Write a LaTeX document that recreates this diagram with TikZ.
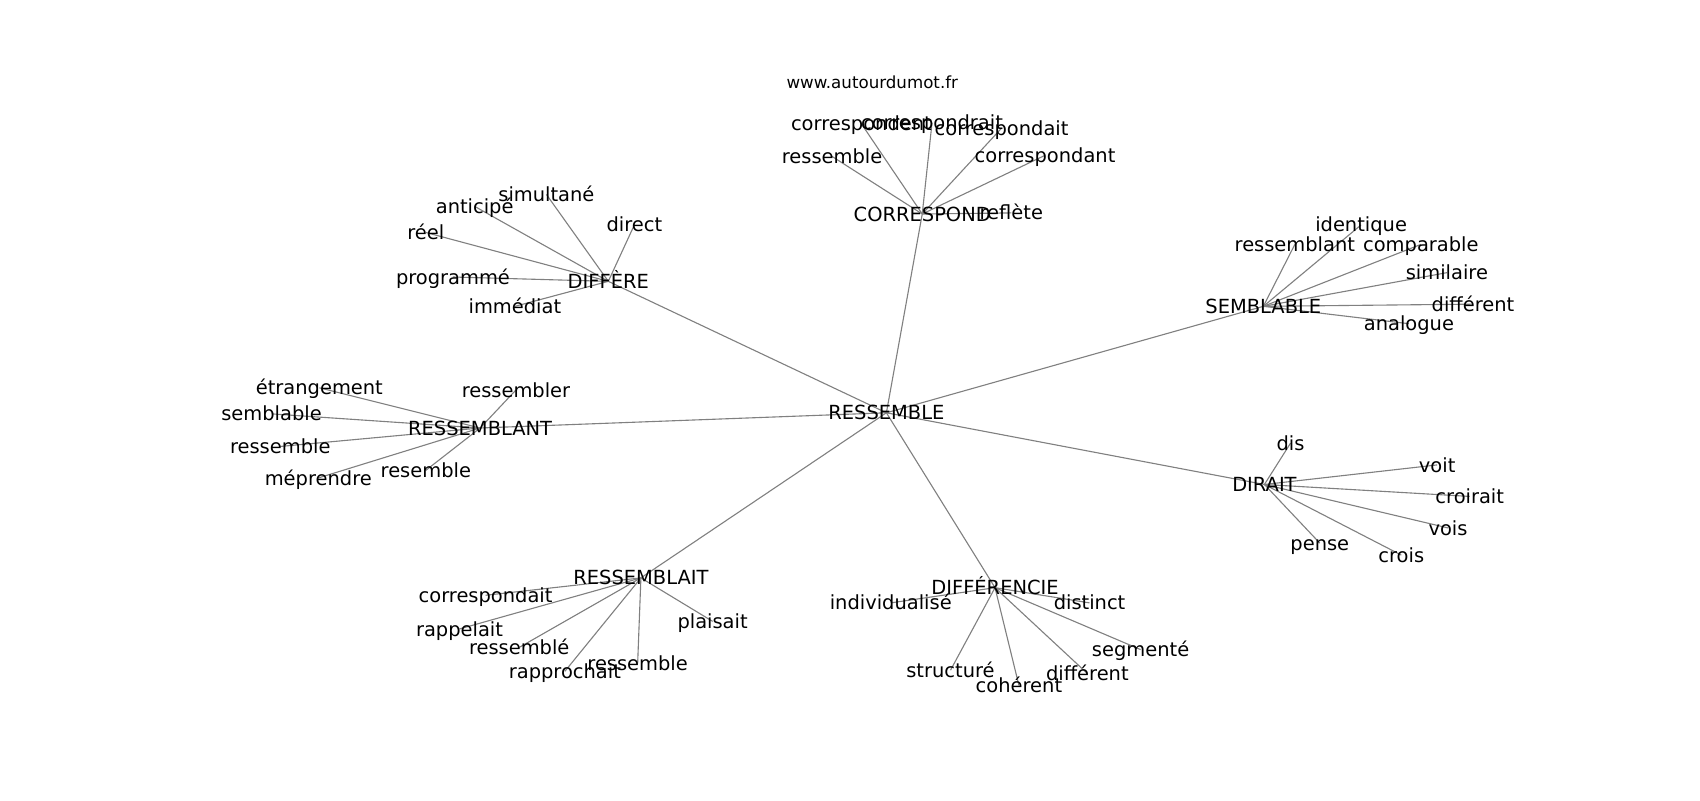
\documentclass[tikz,border=0pt]{standalone}
\usepackage{fontspec}
\setmainfont{DejaVu Sans}
\usetikzlibrary{backgrounds}
\tikzset{
  lbl/.style={inner sep=0pt, text height=10.2pt, text depth=0pt, font=\fontsize{14}{16}\selectfont, text=black},
  web/.style={inner sep=0pt, font=\fontsize{12}{14}\selectfont, text=black},
  edge/.style={draw=black!50, line width=0.8pt}
}
\begin{document}
\begin{tikzpicture}[x=0.782pt, y=-0.782pt]
\useasboundingbox (0,0) rectangle (1565,737);
\node[web] (web) at (803,76) {www.autourdumot.fr};
% hubs
\node[lbl] (R) at (816,380) {RESSEMBLE};
\node[lbl] (C) at (849,197) {CORRESPOND};
\node[lbl] (D) at (560,259) {DIFFÈRE};
\node[lbl] (S) at (1163,282) {SEMBLABLE};
\node[lbl] (RT) at (442,394) {RESSEMBLANT};
\node[lbl] (DI) at (1164,446) {DIRAIT};
\node[lbl] (RA) at (590,532) {RESSEMBLAIT};
\node[lbl] (DF) at (916,541) {DIFFÉRENCIE};
% CORRESPOND leaves
\node[lbl] (c1) at (793,114) {correspondent};
\node[lbl] (c2) at (858,113) {correspondrait};
\node[lbl] (c3) at (922,118) {correspondait};
\node[lbl] (c4) at (766,144) {ressemble};
\node[lbl] (c5) at (962,143) {correspondant};
\node[lbl] (c6) at (931,196) {reflète};
% DIFFERE leaves
\node[lbl] (d1) at (503,179) {simultané};
\node[lbl] (d2) at (437,190) {anticipé};
\node[lbl] (d3) at (584,207) {direct};
\node[lbl] (d4) at (392,214) {réel};
\node[lbl] (d5) at (417,255) {programmé};
\node[lbl] (d6) at (474,282) {immédiat};
% SEMBLABLE leaves
\node[lbl] (s1) at (1253,207) {identique};
\node[lbl] (s2) at (1192,225) {ressemblant};
\node[lbl] (s3) at (1308,225) {comparable};
\node[lbl] (s4) at (1332,251) {similaire};
\node[lbl] (s5) at (1356,280) {différent};
\node[lbl] (s6) at (1297,298) {analogue};
% RESSEMBLANT leaves
\node[lbl] (t1) at (294,357) {étrangement};
\node[lbl] (t2) at (250,381) {semblable};
\node[lbl] (t3) at (258,411) {ressemble};
\node[lbl] (t4) at (293,440) {méprendre};
\node[lbl] (t5) at (475,359) {ressembler};
\node[lbl] (t6) at (392,433) {resemble};
% DIRAIT leaves
\node[lbl] (i1) at (1188,408) {dis};
\node[lbl] (i2) at (1323,428) {voit};
\node[lbl] (i3) at (1353,457) {croirait};
\node[lbl] (i4) at (1333,486) {vois};
\node[lbl] (i5) at (1215,500) {pense};
\node[lbl] (i6) at (1290,511) {crois};
% RESSEMBLAIT leaves
\node[lbl] (a1) at (447,548) {correspondait};
\node[lbl] (a2) at (423,579) {rappelait};
\node[lbl] (a3) at (478,596) {ressemblé};
\node[lbl] (a4) at (520,618) {rapprochait};
\node[lbl] (a5) at (587,611) {ressemble};
\node[lbl] (a6) at (656,572) {plaisait};
% DIFFERENCIE leaves
\node[lbl] (f1) at (820,555) {individualisé};
\node[lbl] (f2) at (1003,555) {distinct};
\node[lbl] (f3) at (1050,598) {segmenté};
\node[lbl] (f4) at (1001,620) {différent};
\node[lbl] (f5) at (938,631) {cohérent};
\node[lbl] (f6) at (875,617) {structuré};
\begin{scope}[on background layer]
\foreach \h in {C,D,S,RT,DI,RA,DF} \draw[edge] (R.center) -- (\h.center);
\foreach \l in {c1,c2,c3,c4,c5,c6} \draw[edge] (C.center) -- (\l.center);
\foreach \l in {d1,d2,d3,d4,d5,d6} \draw[edge] (D.center) -- (\l.center);
\foreach \l in {s1,s2,s3,s4,s5,s6} \draw[edge] (S.center) -- (\l.center);
\foreach \l in {t1,t2,t3,t4,t5,t6} \draw[edge] (RT.center) -- (\l.center);
\foreach \l in {i1,i2,i3,i4,i5,i6} \draw[edge] (DI.center) -- (\l.center);
\foreach \l in {a1,a2,a3,a4,a5,a6} \draw[edge] (RA.center) -- (\l.center);
\foreach \l in {f1,f2,f3,f4,f5,f6} \draw[edge] (DF.center) -- (\l.center);
\end{scope}
\end{tikzpicture}
\end{document}
